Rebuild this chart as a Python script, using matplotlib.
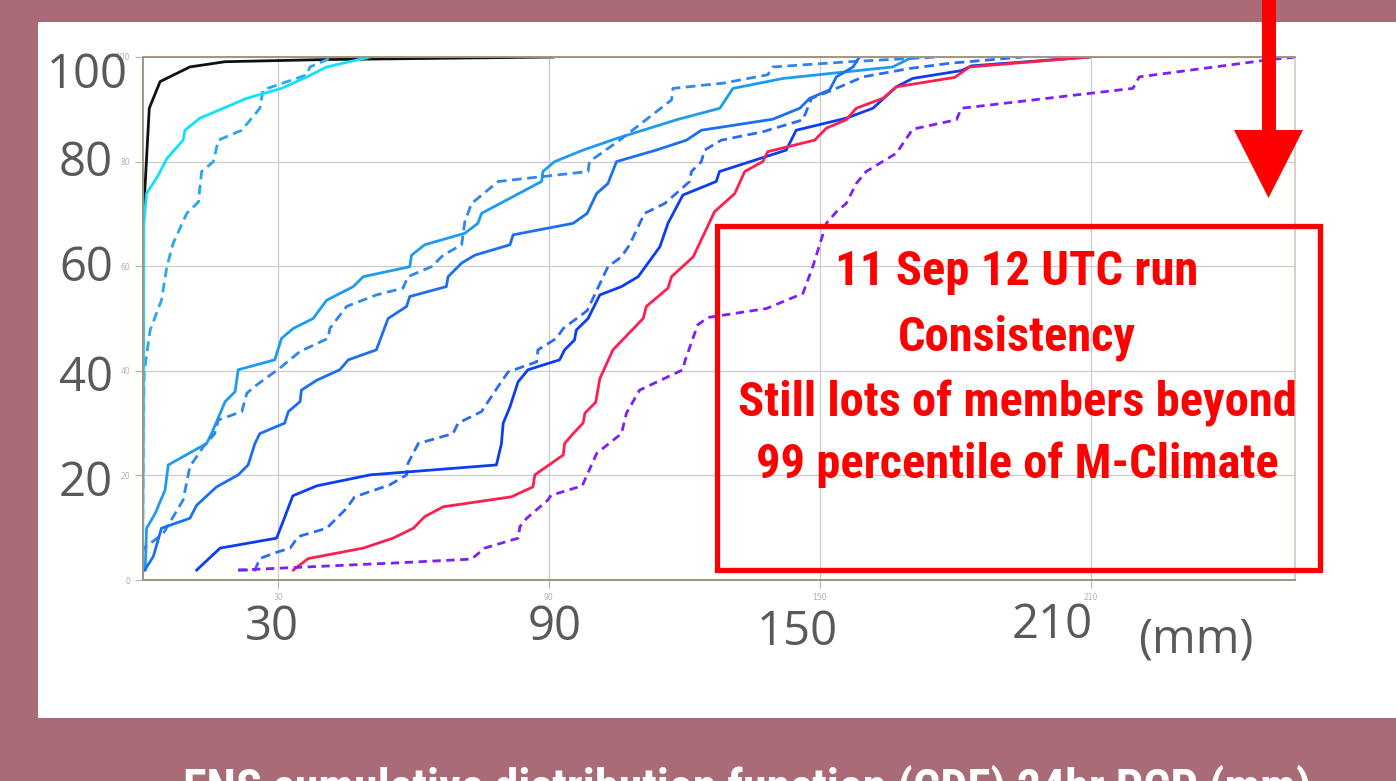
import matplotlib
matplotlib.use('Agg')
import matplotlib.pyplot as plt
from matplotlib.patches import Rectangle, Polygon
from matplotlib import font_manager

W, H = 1396, 781

# ENS members CDF curves, x = precipitation (mm), y = percent
black_x = [0, 0.2, 1.5, 3.9, 10.5, 18.3, 40, 91]
black_y = [0, 69.5, 90.2, 95.3, 98.1, 99.1, 99.5, 100]

cyan_x = [0, 0.3, 0.9, 3.5, 5.4, 9.0, 9.4, 12.7, 23.1, 30.8, 36.4, 40.8, 50.4]
cyan_y = [0, 68, 73.9, 77.4, 80.6, 84.1, 86, 88.3, 92.1, 94.0, 96.2, 98.1, 100]

sky_x = [0, 0.2, 0.4, 1.7, 4.2, 5.4, 6.8, 9.8, 12.4, 12.7, 13.1, 15.7, 16.8,
         22.0, 26.0, 26.7, 36.4, 37.1, 42.2]
sky_y = [0, 30, 40, 47.8, 53.5, 59.9, 64.4, 70.1, 72.3, 75, 78.1, 80, 84.1,
         86, 90.2, 93.7, 96.6, 98.1, 100]

light_x = [0.6, 0.9, 2.8, 5.0, 5.7, 14.2, 15.3, 18.3, 20.5, 21.2, 29.3, 30.8,
           33.4, 37.8, 40.8, 46.7, 48.9, 59.2, 59.6, 62.5, 71.4, 74.3, 75.1,
           88.4, 88.7, 91.3, 97.6, 105.3, 118.3, 127.9, 130.8, 141.9, 152.9,
           166.2, 169.9, 172]
light_y = [1.9, 9.9, 12.7, 17.2, 22.0, 26.1, 28.0, 34.1, 36.0, 40.2, 42.1, 46.2,
           48.1, 50.0, 53.5, 56.1, 58.0, 59.9, 62.1, 64.1, 66.3, 68.2, 70.1,
           76.2, 78.1, 80, 82.2, 84.5, 88, 90.2, 94.0, 95.9, 96.9,
           98.1, 99.7, 100]

dash1_x = [0, 0.2, 4.6, 9.0, 10.5, 13.5, 16.0, 16.8, 22.0, 23.1, 25.3, 30.4,
           34.9, 41.1, 41.5, 45.2, 51.8, 57.7, 58.8, 64.0, 66.6, 70.7, 71.4,
           72.9, 78.8, 98.7, 99.0, 105.7, 117.2, 117.5, 128.6, 138.5, 139.6,
           156.6, 176]
dash1_y = [5, 6.0, 8.9, 15.3, 21.7, 25.5, 28.0, 30.6, 32.2, 35.7, 37.3, 40.5,
           43.7, 46.2, 48.1, 52.3, 54.5, 55.8, 58.0, 59.9, 62.1, 64.1, 68.5,
           72.0, 76.2, 78.1, 80, 84.1, 91.8, 94.0, 95.0, 96.6, 98.1,
           99.1, 100]

mid_x = [0.5, 2.4, 4.2, 10.5, 12.0, 16.4, 21.2, 23.4, 24.9, 26.0, 31.5, 32.3,
         34.9, 35.2, 38.6, 43.7, 45.6, 51.8, 54.4, 58.5, 59.2, 67.3, 67.7,
         70.7, 73.6, 81.4, 82.1, 95.4, 98.5, 100.6, 103.1, 105.0, 113.8,
         120.5, 123.8, 139.6, 145.6, 147.8, 152.2, 153.7, 157.4, 158.8]
mid_y = [1.9, 4.5, 9.9, 11.8, 14.3, 17.8, 20.1, 22.0, 26.1, 28.0, 30.0, 32.2,
         34.1, 36.3, 38.2, 40.2, 42.1, 44.0, 50.0, 52.3, 54.2, 56.1, 58,
         60.6, 62.1, 64.1, 66.0, 68.2, 70.1, 73.9, 75.8, 80, 82.2,
         84.1, 86, 88.1, 90.2, 92.1, 93.7, 96.2, 98.1, 100]

dash2_x = [21.2, 24.9, 26.0, 29.0, 32.7, 34.5, 40.8, 45.2, 47.0, 54.8, 58.5,
           58.8, 61.1, 68.8, 69.9, 75.1, 78.0, 81.0, 87.3, 87.6, 91.7, 93.2,
           98.5, 103.1, 106.1, 107.9, 111.2, 115.7, 118.6, 121.2, 121.6,
           123.8, 124.5, 128.2, 137.4, 146.3, 148.2, 152.9, 159.6, 169.9,
           178.8, 195]
dash2_y = [1.9, 1.9, 4.1, 5.1, 6.1, 8.3, 9.9, 13.7, 15.9, 18.2, 20.1,
           22.3, 26.1, 28.0, 30.0, 32.2, 36.0, 39.8, 41.7, 44.0, 46.2, 48.1,
           51.5, 59.9, 61.8, 64.1, 70.1, 72.0, 74.2, 76.2, 78.1,
           80, 82.2, 84.1, 85.7, 88.0, 92.1, 93.7, 96.2, 97.8,
           98.8, 100]

royal_x = [12.0, 17.2, 29.7, 31.5, 33.3, 38.6, 50.4, 78.4, 79.5, 79.9, 81.4,
           83.2, 85.4, 92.4, 93.5, 95.7, 96.1, 98.7, 101.3, 106.1, 109.8,
           114.6, 116.4, 119.7, 127.1, 127.8, 142.6, 144.8, 155.9, 161.8,
           167.0, 170.6, 181.4, 183.6, 209.8]
royal_y = [1.9, 6.1, 8.0, 12, 16.1, 18.0, 20.1, 22.0, 26, 30.0, 33.1,
           37.9, 40.2, 42.1, 44.0, 45.9, 47.8, 50.0, 54.5, 56.1, 58.0,
           63.7, 68.2, 73.6, 76.2, 78.1, 82.2, 86.0, 88.3, 90.2,
           94.3, 95.9, 97.4, 98.3, 100]

red_x = [33.4, 36.7, 48.9, 55.5, 60.0, 62.5, 66.6, 81.7, 86.5, 86.9, 93.2,
         93.5, 95.4, 97.6, 98.0, 100.4, 101.3, 104.2, 110.9, 111.6, 116.4,
         117.2, 122.0, 126.7, 131.2, 133.4, 137.4, 138.5, 148.9, 151.5,
         155.9, 158.1, 164.0, 167.0, 179.9, 183.2, 209.8]
red_y = [1.9, 4.1, 6.1, 8.0, 9.9, 12.1, 14.0, 15.9, 17.8, 20.1, 23.9,
         26.1, 28.0, 30.0, 31.9, 34.0, 38.5, 44.0, 50.0, 52.3, 55.8,
         58.0, 61.8, 70.4, 73.9, 78.1, 80, 81.9, 84.1, 86.4,
         88.0, 90.2, 92.1, 94.3, 96.1, 98.1, 100]

purple_x = [21.2, 57.0, 72.9, 75.8, 83.2, 83.6, 85.1, 89.8, 90.5, 97.4, 100.6,
            106.1, 107.2, 110.1, 119.7, 120.2, 123.0, 125.3, 138.2, 146.3,
            148.5, 151.5, 153.7, 155.9, 158.1, 160.3, 167.0, 170.6, 180.3,
            181.4, 219.4, 220.8, 248.9, 255.5]
purple_y = [1.9, 3.3, 4.0, 6.1, 8.0, 10.2, 11.8, 15.3, 16.2, 18.0, 24.2,
            28.0, 31.9, 36.3, 40.2, 42, 48.8, 50.2, 51.9, 54.8,
            60, 68.2, 70.4, 72.0, 75.8, 78.1, 81.6, 86.2, 88.0,
            90.2, 94.0, 96.2, 99.4, 100]

x_ticks = [30, 90, 150, 210]
y_ticks = [0, 20, 40, 60, 80, 100]
big_y_labels = ['100', '80', '60', '40', '20']
big_x_labels = ['30', '90', '150', '210']

box_lines = ['11 Sep 12 UTC run', 'Consistency',
             'Still lots of members beyond', '99 percentile of M-Climate']
footer = 'ENS cumulative distribution function (CDF) 24hr PCP (mm)'

# pick a narrow bold font if one is installed
names = {f.name for f in font_manager.fontManager.ttflist}
narrow = [n for n in ['Roboto Condensed', 'Liberation Sans Narrow',
                      'DejaVu Sans Condensed'] if n in names]
cond_family = narrow + ['DejaVu Sans']


def fx(px):
    return px / W


def fy(py):
    return 1 - py / H


fig = plt.figure(figsize=(W / 100, H / 100), dpi=100)
fig.patch.set_facecolor('#a96c76')
fig.patches.append(Rectangle((fx(38), fy(718)), 1 - fx(38), fy(22) - fy(718),
                             transform=fig.transFigure, facecolor='white',
                             edgecolor='none', zorder=-5))

ax = fig.add_axes([fx(142.5), fy(580), fx(1295) - fx(142.5), fy(57) - fy(580)])
ax.set_facecolor('none')

lw = 2.0
ax.plot(black_x, black_y, color='#111111', lw=lw)
ax.plot(sky_x, sky_y, color='#2aa6ef', lw=lw, ls=(0, (3.5, 2)))
ax.plot(cyan_x, cyan_y, color='#10e2f8', lw=lw)
ax.plot(light_x, light_y, color='#1e9bef', lw=lw)
ax.plot(dash1_x, dash1_y, color='#2f86ee', lw=lw, ls=(0, (3.5, 2)))
ax.plot(mid_x, mid_y, color='#1b6ff0', lw=lw)
ax.plot(dash2_x, dash2_y, color='#2a6cf2', lw=lw, ls=(0, (3.5, 2)))
ax.plot(royal_x, royal_y, color='#0b3ef2', lw=lw)
ax.plot(red_x, red_y, color='#ff1f4f', lw=lw)
ax.plot(purple_x, purple_y, color='#7f1ff7', lw=lw, ls=(0, (3, 2)))

ax.set_xlim(0, 255.3)
ax.set_ylim(0, 100)
ax.set_xticks(x_ticks)
ax.set_yticks(y_ticks)
ax.tick_params(colors='#b0b0b0', labelsize=5.5, length=6, width=0.8, pad=3)
ax.grid(True, color='#cccccc', lw=0.9)
for side in ['top', 'bottom', 'left']:
    ax.spines[side].set_color('#a09482')
    ax.spines[side].set_linewidth(1.4)
ax.spines['right'].set_color('#cfc8bf')
ax.spines['right'].set_linewidth(1.2)

# big overlay axis labels
big_y_pos = [(128, 75), (113, 163), (113, 268), (113, 378), (113, 483)]
for lab, (px, py) in zip(big_y_labels, big_y_pos):
    fig.text(fx(px), fy(py), lab, ha='right', va='center', fontsize=34,
             color='#595959', family='Open Sans')
big_x_pos = [(272, 627), (555, 627), (797, 632), (1052, 625)]
for lab, (px, py) in zip(big_x_labels, big_x_pos):
    fig.text(fx(px), fy(py), lab, ha='center', va='center', fontsize=34,
             color='#595959', family='Open Sans')
fig.text(fx(1196), fy(640), '(mm)', ha='center', va='center', fontsize=34,
         color='#595959', family='Open Sans')

# red box with note
fig.patches.append(Rectangle((fx(717), fy(570)), fx(1320) - fx(717),
                             fy(226) - fy(570), transform=fig.transFigure,
                             facecolor='none', edgecolor='#ff0000', lw=3.8,
                             zorder=5))
box_y = [272, 338, 403, 465]
for line, py in zip(box_lines, box_y):
    fig.text(fx(1017), fy(py), line, ha='center', va='center', fontsize=35,
             color='#ff0000', fontweight='bold', fontstretch='condensed',
             family=cond_family, zorder=6)

# red arrow at top right
fig.patches.append(Rectangle((fx(1262), fy(130)), fx(14), fy(0) - fy(130),
                             transform=fig.transFigure, facecolor='#ff0000',
                             edgecolor='none', zorder=5))
fig.patches.append(Polygon([(fx(1234), fy(130)), (fx(1303), fy(130)),
                            (fx(1268.5), fy(198))], closed=True,
                           transform=fig.transFigure, facecolor='#ff0000',
                           edgecolor='none', zorder=5))

fig.text(fx(183), fy(764), footer, ha='left', va='top', fontsize=34.5,
         color='white', fontweight='bold', fontstretch='condensed',
         family=cond_family)

fig.savefig('out.png', dpi=100, facecolor=fig.get_facecolor())
